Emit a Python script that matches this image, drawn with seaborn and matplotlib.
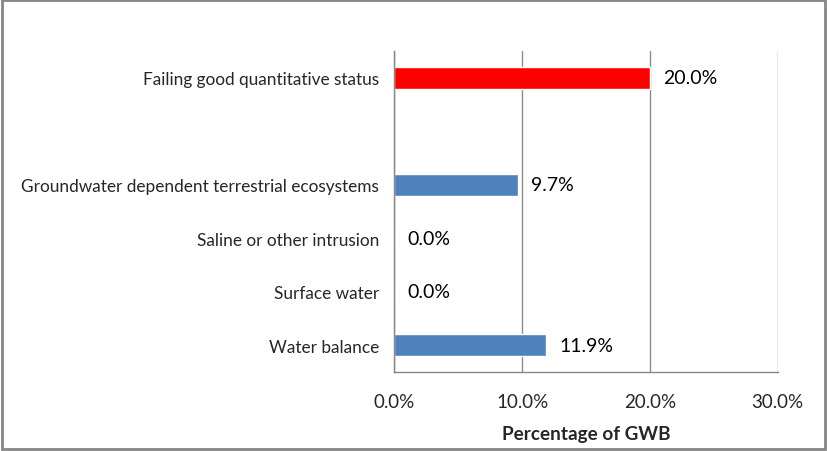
import matplotlib
matplotlib.use("Agg")
import matplotlib.pyplot as plt
import seaborn as sns
from pandas import DataFrame
from matplotlib.ticker import PercentFormatter
from matplotlib.patches import Rectangle

# data, top to bottom; the blank entry is the gap row
categories = [
    "Failing good quantitative status",
    " ",
    "Groundwater dependent terrestrial ecosystems",
    "Saline or other intrusion",
    "Surface water",
    "Water balance",
]
values = [20.0, None, 9.7, 0.0, 0.0, 11.9]
bar_colors = ["#FF0000", "#FFFFFF", "#4F81BD", "#4F81BD", "#4F81BD", "#4F81BD"]
x_ticks = [0, 10, 20, 30]
x_label = "Percentage of GWB"

sns.set_style("white")
plt.rcParams["font.family"] = ["Lato", "DejaVu Sans"]

df = DataFrame({"category": categories, "value": values})

fig = plt.figure(figsize=(8.28, 4.52), dpi=100)
ax = fig.add_axes([394.3 / 828, 1 - 373 / 452, (778.3 - 394.3) / 828, (373 - 52) / 452])

sns.barplot(
    data=df.dropna(), x="value", y="category", hue="category", order=categories,
    hue_order=categories, palette=dict(zip(categories, bar_colors)),
    legend=False, width=0.41, saturation=1, ax=ax, orient="h",
)

# data labels
for i, v in enumerate(values):
    if v is None:
        continue
    ax.text(v + 1.0, i, f"{v:.1f}%", va="center", ha="left", fontsize=14, color="black")

ax.set_xlim(0, 30.05)
ax.set_ylim(len(categories) - 0.5, -0.5)
ax.set_xticks(x_ticks)
ax.xaxis.set_major_formatter(PercentFormatter(decimals=1))
ax.set_yticks([i - 0.5 for i in range(len(categories) + 1)], minor=False)
ax.set_yticklabels([])
ax.set_yticks(range(len(categories)), minor=True)
ax.set_yticklabels(categories, minor=True)
ax.tick_params(axis="y", which="minor", length=0, labelsize=12.4, pad=11)
ax.tick_params(axis="y", which="major", length=6, color="#868686", direction="out")
ax.tick_params(axis="x", length=6, color="#868686", labelsize=13.5, pad=9, direction="out")
ax.set_ylabel("")
ax.set_xlabel(x_label, fontsize=13.6, fontweight="bold", labelpad=11)

ax.grid(axis="x", color="#8c8c8c", linewidth=1.0)
ax.set_axisbelow(True)
for side in ["top", "right"]:
    ax.spines[side].set_visible(False)
for side in ["left", "bottom"]:
    ax.spines[side].set_color("#868686")
    ax.spines[side].set_linewidth(1)

# outer chart border
fig.patches.append(Rectangle((0.002, 0.004), 0.994, 0.993, transform=fig.transFigure,
                             fill=False, edgecolor="#868686", linewidth=2))

fig.savefig("out.png", dpi=100)
